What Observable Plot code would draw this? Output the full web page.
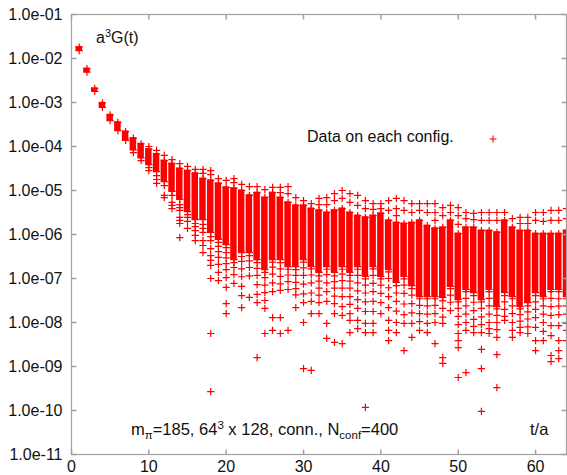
<!DOCTYPE html>
<html><head><meta charset="utf-8">
<script src="https://cdn.jsdelivr.net/npm/d3@7"></script>
<script src="https://cdn.jsdelivr.net/npm/@observablehq/plot@0.6"></script>
<style>body{margin:0;background:#fff}svg{display:block}</style>
</head><body><div id="chart"></div>
<script>
// Euclidean time slices t/a
const tValues = [1,2,3,4,5,6,7,8,9,10,11,12,13,14,15,16,17,18,19,20,21,22,23,24,25,26,27,28,29,30,31,32,
  33,34,35,36,37,38,39,40,41,42,43,44,45,46,47,48,49,50,51,52,53,54,55,56,57,58,59,60,61,62,63,64];
// log10 a^3 G(t): top and bottom of the dense band of configurations
const bandHigh = [-1.74,-2.23,-2.68,-3.01,-3.28,-3.45,-3.66,-3.81,-3.94,-4.06,
  -4.17,-4.32,-4.39,-4.50,-4.55,-4.61,-4.73,-4.77,-4.84,-4.93,
  -4.95,-5.00,-5.11,-5.05,-5.16,-5.05,-5.16,-5.27,-5.34,-5.34,
  -5.41,-5.45,-5.50,-5.45,-5.41,-5.50,-5.57,-5.61,-5.57,-5.52,
  -5.68,-5.73,-5.75,-5.73,-5.68,-5.80,-5.86,-5.84,-5.68,-5.98,
  -5.84,-5.84,-5.91,-5.91,-5.95,-5.68,-5.84,-5.91,-5.91,-5.98,
  -5.98,-5.98,-5.98,-5.91];
const bandLow = [-1.82,-2.31,-2.75,-3.11,-3.41,-3.64,-3.86,-4.08,-4.26,-4.41,
  -4.57,-4.80,-5.02,-5.20,-5.48,-5.66,-5.66,-5.95,-6.11,-6.23,
  -6.57,-6.41,-6.41,-6.57,-6.80,-6.57,-6.57,-6.73,-6.73,-6.57,
  -6.73,-6.86,-6.73,-6.86,-6.73,-6.86,-6.73,-6.95,-6.73,-6.95,
  -6.80,-7.09,-6.95,-7.16,-7.41,-7.41,-7.41,-7.43,-7.18,-7.48,
  -7.25,-7.32,-7.48,-7.25,-7.64,-7.32,-7.41,-7.64,-7.55,-7.32,
  -7.41,-7.25,-7.25,-7.41];
// log10 of individual configurations above the band
const upperPoints = [[],[],[],[],[],[],[],[],[],[-4.00],
  [-4.09],[-4.20],[-4.30],[-4.39],[-4.45],[-4.52],[-4.52,-4.61],[-4.55,-4.64],[-4.73],[-4.77],
  [-4.73,-4.82],[-4.86],[-4.91],[-4.91],[-4.98],[-4.93],[-4.93,-5.05],[-4.91,-5.07],[-5.16],[-5.23],
  [-5.30],[-5.18,-5.32],[-5.16,-5.32],[-5.07,-5.23],[-5.00,-5.18],[-5.07,-5.27],[-5.11,-5.34],[-5.23,-5.41],[-5.30,-5.43],[-5.30,-5.41],
  [-5.23,-5.45],[-5.18,-5.41,-5.57],[-5.23,-5.45],[-5.30,-5.50],[-5.30,-5.45],[-5.30,-5.50],[-5.30,-5.50,-5.68],[-5.39,-5.57],[-5.34,-5.50],[-5.39,-5.57,-5.77],
  [-5.50,-5.64],[-5.52,-5.66],[-5.50,-5.68],[-5.50,-5.68],[-5.50,-5.68],[-5.50],[-5.64],[-5.61,-5.75],[-5.61,-5.75],[-5.50,-5.68],
  [-5.50,-5.70],[-5.45,-5.68],[-5.45,-5.68],[-5.41,-5.64]];
// log10 of individual configurations below the band
const lowerPoints = [[],[],[],[],[],[],[],[-4.14],[-4.32],[-4.48,-4.55],
  [-4.66,-4.75,-4.84],[-4.89,-5.11,-5.16],[-5.11,-5.27,-5.34,-5.41],[-5.32,-5.39,-5.45,-5.61,-5.68,-5.75,-6.07],[-5.55,-5.61,-5.70,-5.86],
  [-5.75,-5.82,-5.91,-6.02,-6.14],[-5.77,-5.86,-5.95,-6.14,-6.25,-6.41],[-6.05,-6.14,-6.32,-6.48,-6.59,-6.70,-7.00,-8.25,-9.57],
  [-6.18,-6.27,-6.39,-6.52,-6.68,-6.86,-7.05],[-6.30,-6.41,-6.53,-6.66,-6.80,-6.98,-7.20,-7.57,-7.80],
  [-6.64,-6.75,-6.91,-7.11],[-6.50,-6.61,-6.78,-6.96,-7.18,-7.39,-7.66],[-6.48,-6.60,-6.75,-6.94,-7.43],
  [-6.64,-6.77,-6.93,-7.14,-7.36,-7.55,-8.80],[-6.86,-6.98,-7.15,-7.32,-7.50,-7.68,-8.25],
  [-6.63,-6.74,-6.90,-7.10,-7.30,-7.89,-8.18],[-6.64,-6.78,-6.95,-7.12,-7.27,-7.89,-8.25],
  [-6.79,-6.92,-7.07,-7.25,-8.18],[-6.80,-6.93,-7.09,-7.23,-7.37,-7.66],
  [-6.63,-6.76,-6.93,-7.13,-7.35,-7.55,-8.00,-9.05],[-6.78,-6.92,-7.10,-7.33,-7.52,-7.80,-9.09],
  [-6.94,-7.06,-7.22,-7.38,-7.55,-7.80],[-6.79,-6.91,-7.10,-7.30,-7.52,-8.02,-8.36],
  [-6.94,-7.07,-7.22,-7.40,-7.57,-7.80,-8.45],[-6.79,-6.90,-7.05,-7.22,-7.41,-7.64,-7.84,-8.48],
  [-6.93,-7.06,-7.22,-7.41,-7.59,-7.80,-7.95,-8.23],[-6.79,-6.93,-7.10,-7.28,-7.48,-7.68,-7.95,-8.14],
  [-7.01,-7.15,-7.33,-7.53,-7.75,-8.02,-8.23,-9.93],[-6.78,-6.93,-7.11,-7.30,-7.52,-7.75,-8.02,-8.23],
  [-7.01,-7.15,-7.34,-7.55,-7.80],[-6.85,-7.00,-7.21,-7.41,-7.66,-7.95,-8.18,-8.41],
  [-7.16,-7.33,-7.52,-7.74,-8.00,-8.23],[-7.01,-7.15,-7.34,-7.58,-7.82,-8.02,-8.64],
  [-7.23,-7.38,-7.57,-7.78,-8.02,-8.34],[-7.46,-7.61,-7.80,-7.98,-8.18],
  [-7.46,-7.62,-7.81,-8.02,-8.23],[-7.46,-7.61,-7.80,-8.00,-8.48],
  [-7.51,-7.68,-7.88,-8.02,-8.80,-8.93],[-7.23,-7.38,-7.54,-7.73],
  [-7.53,-7.68,-7.86,-8.05,-8.25,-8.41,-8.57,-9.25],[-7.30,-7.45,-7.62,-7.81,-8.00,-8.18,-9.14],
  [-7.39,-7.54,-7.73,-7.93,-8.09,-8.23],[-7.53,-7.68,-7.87,-8.05,-8.23,-8.61,-9.05,-10.02],
  [-7.30,-7.45,-7.62,-7.81,-8.00,-8.14,-8.25],[-7.69,-7.84,-8.00,-8.16,-8.34,-8.73,-9.48],
  [-7.39,-7.53,-7.70,-7.86,-7.95],[-7.46,-7.62,-7.80,-8.00,-8.18,-8.34],
  [-7.69,-7.82,-7.97,-8.11,-8.23],[-7.62,-7.76,-7.92,-8.10,-8.25],
  [-7.39,-7.53,-7.70,-7.89,-8.11,-8.41,-8.64],[-7.46,-7.62,-7.81,-8.00,-8.20,-8.41],
  [-7.30,-7.45,-7.64,-7.84,-8.07,-8.30,-8.75,-8.89],[-7.30,-7.46,-7.63,-7.82,-8.07,-8.41,-8.64,-8.82],
  [-7.46,-7.62,-7.81,-8.02,-8.18,-8.41]];
const yTickValues = [1e-1,1e-2,1e-3,1e-4,1e-5,1e-6,1e-7,1e-8,1e-9,1e-10,1e-11];
const yTickLabels = ["1.0e-01","1.0e-02","1.0e-03","1.0e-04","1.0e-05","1.0e-06","1.0e-07","1.0e-08","1.0e-09","1.0e-10","1.0e-11"];
const xTickValues = [0,10,20,30,40,50,60];

const bands = tValues.map((t, i) => ({t, hi: 10 ** bandHigh[i], lo: 10 ** bandLow[i]}));
const points = tValues.flatMap((t, i) => [
  bandHigh[i], bandLow[i], ...upperPoints[i], ...lowerPoints[i]
].map(v => ({t, g: 10 ** v})));

const plusSymbol = {draw(ctx, size) {
  const r = Math.sqrt(size / Math.PI);
  ctx.moveTo(-r, 0); ctx.lineTo(r, 0); ctx.moveTo(0, -r); ctx.lineTo(0, r);
}};
const tickSym = (dx, dy) => ({draw(ctx, size) {
  const r = Math.sqrt(size / Math.PI);
  ctx.moveTo(0, 0); ctx.lineTo(dx * r, dy * r);
}});
const red = "#ff0000", grey = "#a0a0a0";

const plot = Plot.plot({
  width: 567, height: 475,
  marginLeft: 71, marginRight: 1, marginTop: 14, marginBottom: 21,
  style: {fontFamily: "'Liberation Sans', Arial, sans-serif", fontSize: "16px", color: "#111", background: "#fff"},
  x: {domain: [0, 64], label: null},
  y: {type: "log", domain: [1e-11, 1e-1], label: null},
  marks: [
    Plot.rect(bands, {x1: d => d.t - 0.42, x2: d => d.t + 0.42, y1: "lo", y2: "hi", fill: red, insetTop: -0.6, insetBottom: -0.6}),
    Plot.dot(points, {x: "t", y: "g", symbol: plusSymbol, r: 3.6, stroke: red, strokeWidth: 1.2, fill: "none"}),
    Plot.frame({stroke: grey, strokeWidth: 1.2}),
    Plot.dot(yTickValues, {y: d => d, frameAnchor: "left", symbol: tickSym(1, 0), r: 5, stroke: grey, fill: "none"}),
    Plot.dot(yTickValues, {y: d => d, frameAnchor: "right", symbol: tickSym(-1, 0), r: 5, stroke: grey, fill: "none"}),
    Plot.dot(xTickValues, {x: d => d, frameAnchor: "bottom", symbol: tickSym(0, -1), r: 5, stroke: grey, fill: "none"}),
    Plot.dot(xTickValues, {x: d => d, frameAnchor: "top", symbol: tickSym(0, 1), r: 5, stroke: grey, fill: "none"}),
    Plot.axisY(yTickValues, {tickSize: 0, tickPadding: 9, fontSize: 16, label: null,
      tickFormat: d => yTickLabels[yTickValues.indexOf(d)]}),
    Plot.axisX(xTickValues, {tickSize: 0, tickPadding: 6, fontSize: 16, label: null})
  ]
});
document.getElementById("chart").appendChild(plot);

const svg = d3.select(plot);
const font = "'Liberation Sans', Arial, sans-serif";
function addText(x, y, parts, size = 16) {
  const t = svg.append("text").attr("x", x).attr("y", y).attr("text-anchor", "start")
    .attr("font-family", font).attr("font-size", size).attr("fill", "#111");
  parts.forEach(p => {
    const s = t.append("tspan").text(p.s);
    if (p.dy) s.attr("dy", p.dy);
    if (p.fs) s.attr("font-size", p.fs);
  });
}
addText(96, 43, [{s: "a"}, {s: "3", dy: -6, fs: 11}, {s: "G(t)", dy: 6}]);
addText(307, 142, [{s: "Data on each config."}]);
addText(131, 435, [{s: "m"}, {s: "π", dy: 4, fs: 11.5}, {s: "=185, 64", dy: -4}, {s: "3", dy: -6, fs: 11.5},
  {s: " x 128, conn., N", dy: 6}, {s: "conf", dy: 4, fs: 11.5}, {s: "=400", dy: -4}], 16.5);
addText(530, 435, [{s: "t/a"}], 16.5);
// legend sample marker
svg.append("path").attr("d", "M489.5,139H496.5M493,135.5V142.5").attr("stroke", red).attr("stroke-width", 1.1);
</script></body></html>
